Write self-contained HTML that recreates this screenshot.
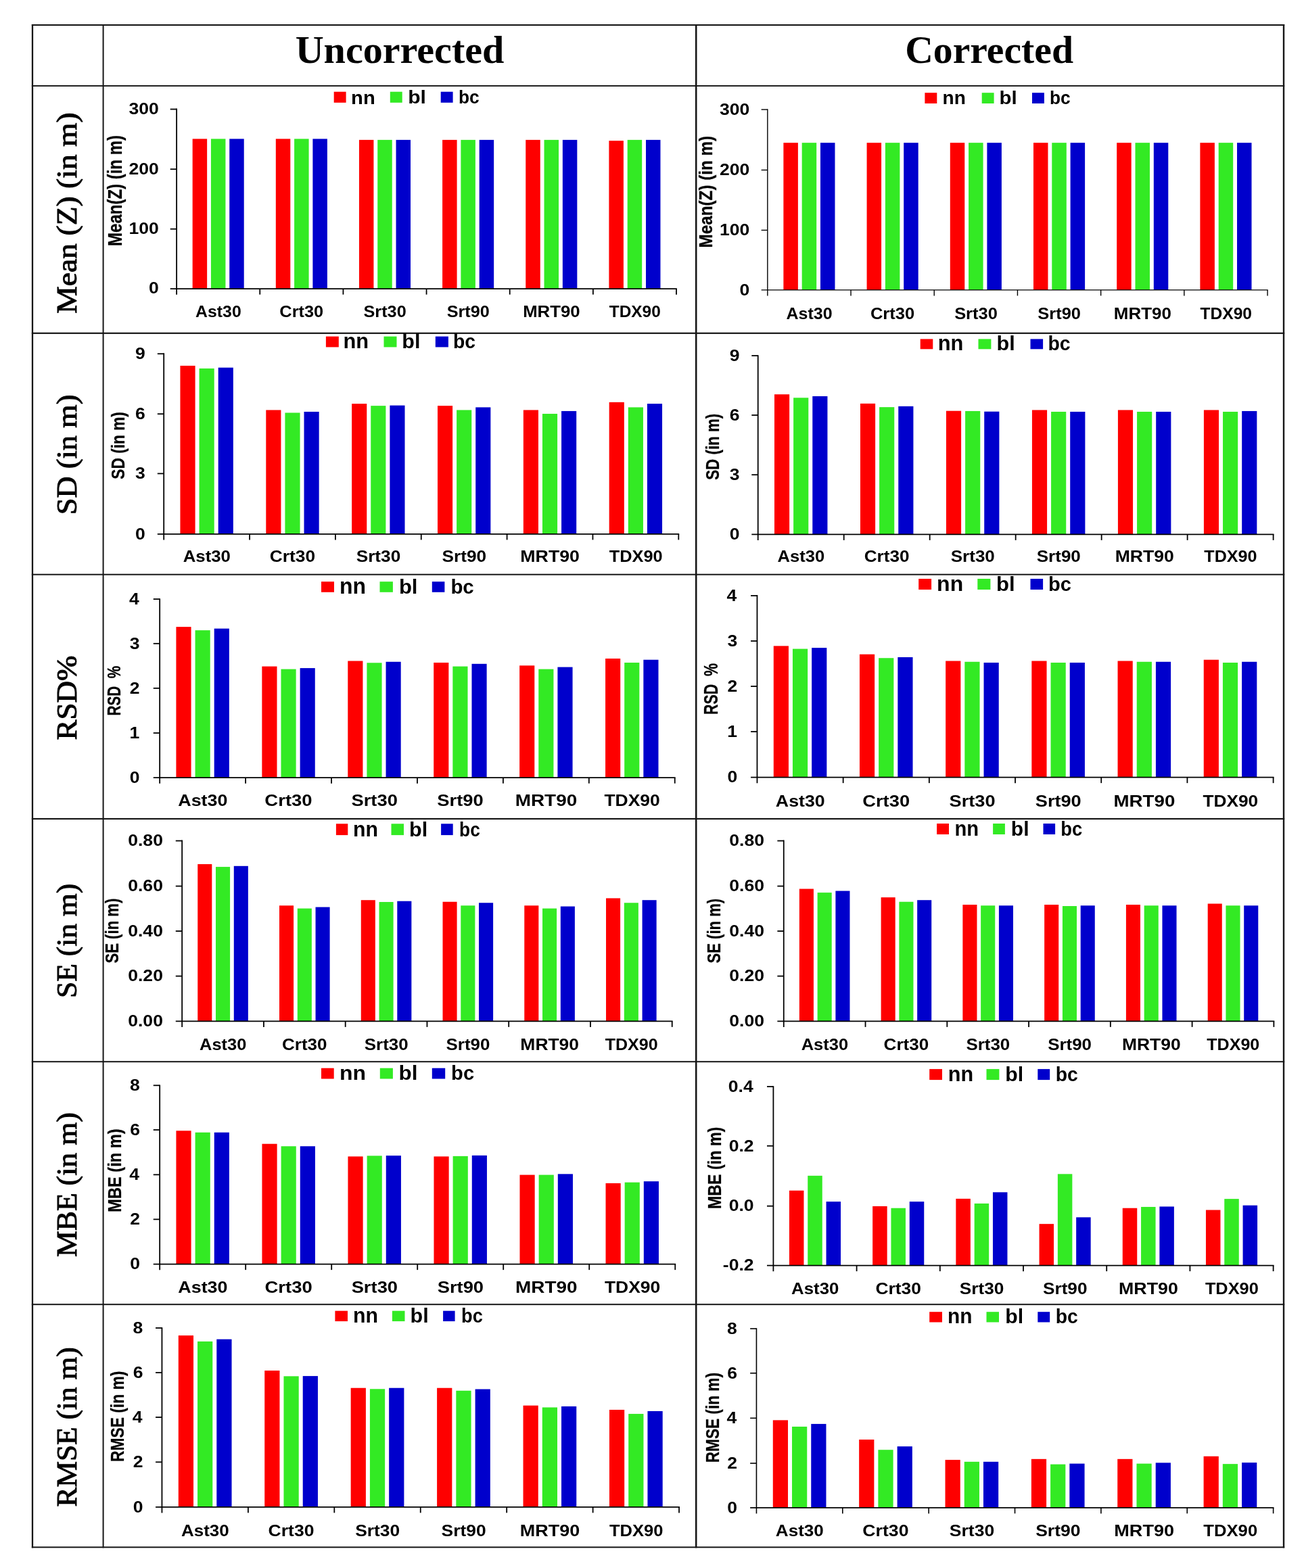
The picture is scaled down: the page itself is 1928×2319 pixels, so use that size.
<!DOCTYPE html>
<html lang="en"><head><meta charset="utf-8"><title>Uncorrected vs Corrected DEM statistics</title>
<style>
html,body{margin:0;padding:0;background:#fff;}
body{width:1928px;height:2319px;overflow:hidden;}
svg{display:block;}
.ss{font-family:'Liberation Sans', sans-serif;}
.sf{font-family:'Liberation Serif', serif;}
.b{font-weight:bold;}
.n{font-weight:normal;}
text{fill:#000000;}
</style></head>
<body>
<svg width="1928" height="2319" viewBox="0 0 1928 2319">
<rect width="1928" height="2319" fill="#ffffff"/>
<g id="bars-axes">
<rect x="284.65" y="205.37" width="21.49" height="221.76" fill="#fe0000"/>
<rect x="311.95" y="205.37" width="21.49" height="221.76" fill="#33ea24"/>
<rect x="339.24" y="205.37" width="21.49" height="221.76" fill="#0000cc"/>
<rect x="407.80" y="205.37" width="21.49" height="221.76" fill="#fe0000"/>
<rect x="435.10" y="205.37" width="21.49" height="221.76" fill="#33ea24"/>
<rect x="462.39" y="205.37" width="21.49" height="221.76" fill="#0000cc"/>
<rect x="530.95" y="206.88" width="21.49" height="220.25" fill="#fe0000"/>
<rect x="558.24" y="206.88" width="21.49" height="220.25" fill="#33ea24"/>
<rect x="585.54" y="206.88" width="21.49" height="220.25" fill="#0000cc"/>
<rect x="654.10" y="206.88" width="21.49" height="220.25" fill="#fe0000"/>
<rect x="681.39" y="206.88" width="21.49" height="220.25" fill="#33ea24"/>
<rect x="708.69" y="206.88" width="21.49" height="220.25" fill="#0000cc"/>
<rect x="777.25" y="206.88" width="21.49" height="220.25" fill="#fe0000"/>
<rect x="804.54" y="206.88" width="21.49" height="220.25" fill="#33ea24"/>
<rect x="831.84" y="206.88" width="21.49" height="220.25" fill="#0000cc"/>
<rect x="900.40" y="208.14" width="21.49" height="218.99" fill="#fe0000"/>
<rect x="927.69" y="206.88" width="21.49" height="220.25" fill="#33ea24"/>
<rect x="954.99" y="206.88" width="21.49" height="220.25" fill="#0000cc"/>
<line x1="261.12" y1="160.62" x2="261.12" y2="435.63" stroke="#000000" stroke-width="1.8"/>
<line x1="251.72" y1="427.13" x2="1000.91" y2="427.13" stroke="#000000" stroke-width="1.8"/>
<line x1="251.72" y1="161.52" x2="261.12" y2="161.52" stroke="#000000" stroke-width="1.8"/>
<line x1="251.72" y1="250.22" x2="261.12" y2="250.22" stroke="#000000" stroke-width="1.8"/>
<line x1="251.72" y1="338.68" x2="261.12" y2="338.68" stroke="#000000" stroke-width="1.8"/>
<line x1="384.27" y1="427.13" x2="384.27" y2="435.63" stroke="#000000" stroke-width="1.8"/>
<line x1="507.42" y1="427.13" x2="507.42" y2="435.63" stroke="#000000" stroke-width="1.8"/>
<line x1="630.56" y1="427.13" x2="630.56" y2="435.63" stroke="#000000" stroke-width="1.8"/>
<line x1="753.71" y1="427.13" x2="753.71" y2="435.63" stroke="#000000" stroke-width="1.8"/>
<line x1="876.86" y1="427.13" x2="876.86" y2="435.63" stroke="#000000" stroke-width="1.8"/>
<line x1="1000.01" y1="427.13" x2="1000.01" y2="435.63" stroke="#000000" stroke-width="1.8"/>
<rect x="493.70" y="135.70" width="17.90" height="16.10" fill="#fe0000"/>
<rect x="576.80" y="135.70" width="17.90" height="16.10" fill="#33ea24"/>
<rect x="651.70" y="135.70" width="17.90" height="16.10" fill="#0000cc"/>
<rect x="1158.38" y="211.16" width="21.50" height="217.73" fill="#fe0000"/>
<rect x="1185.68" y="211.16" width="21.50" height="217.73" fill="#33ea24"/>
<rect x="1212.99" y="211.16" width="21.50" height="217.73" fill="#0000cc"/>
<rect x="1281.58" y="211.16" width="21.50" height="217.73" fill="#fe0000"/>
<rect x="1308.89" y="211.16" width="21.50" height="217.73" fill="#33ea24"/>
<rect x="1336.19" y="211.16" width="21.50" height="217.73" fill="#0000cc"/>
<rect x="1404.78" y="211.16" width="21.50" height="217.73" fill="#fe0000"/>
<rect x="1432.09" y="211.16" width="21.50" height="217.73" fill="#33ea24"/>
<rect x="1459.39" y="211.16" width="21.50" height="217.73" fill="#0000cc"/>
<rect x="1527.98" y="211.16" width="21.50" height="217.73" fill="#fe0000"/>
<rect x="1555.29" y="211.16" width="21.50" height="217.73" fill="#33ea24"/>
<rect x="1582.60" y="211.16" width="21.50" height="217.73" fill="#0000cc"/>
<rect x="1651.18" y="211.16" width="21.50" height="217.73" fill="#fe0000"/>
<rect x="1678.49" y="211.16" width="21.50" height="217.73" fill="#33ea24"/>
<rect x="1705.80" y="211.16" width="21.50" height="217.73" fill="#0000cc"/>
<rect x="1774.39" y="211.16" width="21.50" height="217.73" fill="#fe0000"/>
<rect x="1801.69" y="211.16" width="21.50" height="217.73" fill="#33ea24"/>
<rect x="1829.00" y="211.16" width="21.50" height="217.73" fill="#0000cc"/>
<line x1="1134.83" y1="161.32" x2="1134.83" y2="437.39" stroke="#000000" stroke-width="1.4"/>
<line x1="1125.63" y1="428.89" x2="1874.74" y2="428.89" stroke="#000000" stroke-width="1.4"/>
<line x1="1125.63" y1="162.02" x2="1134.83" y2="162.02" stroke="#000000" stroke-width="1.4"/>
<line x1="1125.63" y1="251.48" x2="1134.83" y2="251.48" stroke="#000000" stroke-width="1.4"/>
<line x1="1125.63" y1="340.44" x2="1134.83" y2="340.44" stroke="#000000" stroke-width="1.4"/>
<line x1="1258.04" y1="428.89" x2="1258.04" y2="437.39" stroke="#000000" stroke-width="1.4"/>
<line x1="1381.24" y1="428.89" x2="1381.24" y2="437.39" stroke="#000000" stroke-width="1.4"/>
<line x1="1504.44" y1="428.89" x2="1504.44" y2="437.39" stroke="#000000" stroke-width="1.4"/>
<line x1="1627.64" y1="428.89" x2="1627.64" y2="437.39" stroke="#000000" stroke-width="1.4"/>
<line x1="1750.84" y1="428.89" x2="1750.84" y2="437.39" stroke="#000000" stroke-width="1.4"/>
<line x1="1874.04" y1="428.89" x2="1874.04" y2="437.39" stroke="#000000" stroke-width="1.4"/>
<rect x="1367.40" y="137.20" width="17.90" height="15.80" fill="#fe0000"/>
<rect x="1451.70" y="137.20" width="17.90" height="15.80" fill="#33ea24"/>
<rect x="1526.00" y="137.20" width="17.90" height="15.80" fill="#0000cc"/>
<rect x="266.46" y="540.90" width="22.14" height="248.98" fill="#fe0000"/>
<rect x="294.57" y="544.94" width="22.14" height="244.95" fill="#33ea24"/>
<rect x="322.69" y="543.68" width="22.14" height="246.21" fill="#0000cc"/>
<rect x="393.30" y="606.43" width="22.14" height="183.46" fill="#fe0000"/>
<rect x="421.42" y="610.46" width="22.14" height="179.43" fill="#33ea24"/>
<rect x="449.53" y="608.95" width="22.14" height="180.94" fill="#0000cc"/>
<rect x="520.15" y="597.10" width="22.14" height="192.78" fill="#fe0000"/>
<rect x="548.26" y="600.13" width="22.14" height="189.76" fill="#33ea24"/>
<rect x="576.38" y="599.62" width="22.14" height="190.26" fill="#0000cc"/>
<rect x="646.99" y="600.13" width="22.14" height="189.76" fill="#fe0000"/>
<rect x="675.11" y="606.43" width="22.14" height="183.46" fill="#33ea24"/>
<rect x="703.22" y="602.39" width="22.14" height="187.49" fill="#0000cc"/>
<rect x="773.84" y="606.43" width="22.14" height="183.46" fill="#fe0000"/>
<rect x="801.95" y="611.97" width="22.14" height="177.92" fill="#33ea24"/>
<rect x="830.07" y="607.94" width="22.14" height="181.95" fill="#0000cc"/>
<rect x="900.68" y="594.83" width="22.14" height="195.05" fill="#fe0000"/>
<rect x="928.80" y="602.39" width="22.14" height="187.49" fill="#33ea24"/>
<rect x="956.91" y="597.10" width="22.14" height="192.78" fill="#0000cc"/>
<line x1="242.22" y1="522.36" x2="242.22" y2="798.39" stroke="#000000" stroke-width="1.8"/>
<line x1="232.82" y1="789.89" x2="1004.19" y2="789.89" stroke="#000000" stroke-width="1.8"/>
<line x1="232.82" y1="523.26" x2="242.22" y2="523.26" stroke="#000000" stroke-width="1.8"/>
<line x1="232.82" y1="612.22" x2="242.22" y2="612.22" stroke="#000000" stroke-width="1.8"/>
<line x1="232.82" y1="700.42" x2="242.22" y2="700.42" stroke="#000000" stroke-width="1.8"/>
<line x1="369.06" y1="789.89" x2="369.06" y2="798.39" stroke="#000000" stroke-width="1.8"/>
<line x1="495.91" y1="789.89" x2="495.91" y2="798.39" stroke="#000000" stroke-width="1.8"/>
<line x1="622.75" y1="789.89" x2="622.75" y2="798.39" stroke="#000000" stroke-width="1.8"/>
<line x1="749.60" y1="789.89" x2="749.60" y2="798.39" stroke="#000000" stroke-width="1.8"/>
<line x1="876.44" y1="789.89" x2="876.44" y2="798.39" stroke="#000000" stroke-width="1.8"/>
<line x1="1003.29" y1="789.89" x2="1003.29" y2="798.39" stroke="#000000" stroke-width="1.8"/>
<rect x="481.90" y="497.60" width="18.90" height="15.80" fill="#fe0000"/>
<rect x="567.50" y="497.60" width="19.00" height="15.80" fill="#33ea24"/>
<rect x="643.80" y="497.60" width="19.10" height="15.80" fill="#0000cc"/>
<rect x="1144.99" y="583.24" width="22.16" height="207.15" fill="#fe0000"/>
<rect x="1173.13" y="588.28" width="22.16" height="202.11" fill="#33ea24"/>
<rect x="1201.28" y="586.01" width="22.16" height="204.38" fill="#0000cc"/>
<rect x="1271.97" y="596.85" width="22.16" height="193.54" fill="#fe0000"/>
<rect x="1300.11" y="602.14" width="22.16" height="188.25" fill="#33ea24"/>
<rect x="1328.26" y="600.88" width="22.16" height="189.51" fill="#0000cc"/>
<rect x="1398.95" y="607.69" width="22.16" height="182.70" fill="#fe0000"/>
<rect x="1427.10" y="607.94" width="22.16" height="182.45" fill="#33ea24"/>
<rect x="1455.24" y="608.69" width="22.16" height="181.70" fill="#0000cc"/>
<rect x="1525.93" y="606.43" width="22.16" height="183.96" fill="#fe0000"/>
<rect x="1554.08" y="608.95" width="22.16" height="181.44" fill="#33ea24"/>
<rect x="1582.22" y="608.95" width="22.16" height="181.44" fill="#0000cc"/>
<rect x="1652.91" y="606.43" width="22.16" height="183.96" fill="#fe0000"/>
<rect x="1681.06" y="608.95" width="22.16" height="181.44" fill="#33ea24"/>
<rect x="1709.20" y="608.95" width="22.16" height="181.44" fill="#0000cc"/>
<rect x="1779.90" y="606.43" width="22.16" height="183.96" fill="#fe0000"/>
<rect x="1808.04" y="608.95" width="22.16" height="181.44" fill="#33ea24"/>
<rect x="1836.18" y="607.94" width="22.16" height="182.45" fill="#0000cc"/>
<line x1="1120.72" y1="525.14" x2="1120.72" y2="798.89" stroke="#000000" stroke-width="1.8"/>
<line x1="1111.32" y1="790.39" x2="1883.51" y2="790.39" stroke="#000000" stroke-width="1.8"/>
<line x1="1111.32" y1="526.04" x2="1120.72" y2="526.04" stroke="#000000" stroke-width="1.8"/>
<line x1="1111.32" y1="613.99" x2="1120.72" y2="613.99" stroke="#000000" stroke-width="1.8"/>
<line x1="1111.32" y1="702.19" x2="1120.72" y2="702.19" stroke="#000000" stroke-width="1.8"/>
<line x1="1247.70" y1="790.39" x2="1247.70" y2="798.89" stroke="#000000" stroke-width="1.8"/>
<line x1="1374.68" y1="790.39" x2="1374.68" y2="798.89" stroke="#000000" stroke-width="1.8"/>
<line x1="1501.67" y1="790.39" x2="1501.67" y2="798.89" stroke="#000000" stroke-width="1.8"/>
<line x1="1628.65" y1="790.39" x2="1628.65" y2="798.89" stroke="#000000" stroke-width="1.8"/>
<line x1="1755.63" y1="790.39" x2="1755.63" y2="798.89" stroke="#000000" stroke-width="1.8"/>
<line x1="1882.61" y1="790.39" x2="1882.61" y2="798.89" stroke="#000000" stroke-width="1.8"/>
<rect x="1360.70" y="501.40" width="18.60" height="14.90" fill="#fe0000"/>
<rect x="1446.50" y="501.40" width="18.90" height="14.90" fill="#33ea24"/>
<rect x="1523.50" y="501.40" width="18.60" height="14.90" fill="#0000cc"/>
<rect x="260.43" y="927.11" width="22.15" height="223.02" fill="#fe0000"/>
<rect x="288.56" y="932.15" width="22.15" height="217.98" fill="#33ea24"/>
<rect x="316.69" y="929.63" width="22.15" height="220.50" fill="#0000cc"/>
<rect x="387.35" y="985.58" width="22.15" height="164.56" fill="#fe0000"/>
<rect x="415.49" y="989.61" width="22.15" height="160.53" fill="#33ea24"/>
<rect x="443.62" y="988.10" width="22.15" height="162.04" fill="#0000cc"/>
<rect x="514.28" y="977.51" width="22.15" height="172.62" fill="#fe0000"/>
<rect x="542.42" y="980.29" width="22.15" height="169.85" fill="#33ea24"/>
<rect x="570.55" y="978.77" width="22.15" height="171.36" fill="#0000cc"/>
<rect x="641.21" y="980.03" width="22.15" height="170.10" fill="#fe0000"/>
<rect x="669.35" y="985.58" width="22.15" height="164.56" fill="#33ea24"/>
<rect x="697.48" y="981.80" width="22.15" height="168.34" fill="#0000cc"/>
<rect x="768.14" y="984.32" width="22.15" height="165.82" fill="#fe0000"/>
<rect x="796.27" y="989.61" width="22.15" height="160.53" fill="#33ea24"/>
<rect x="824.41" y="986.59" width="22.15" height="163.55" fill="#0000cc"/>
<rect x="895.07" y="973.99" width="22.15" height="176.15" fill="#fe0000"/>
<rect x="923.20" y="980.03" width="22.15" height="170.10" fill="#33ea24"/>
<rect x="951.34" y="975.75" width="22.15" height="174.39" fill="#0000cc"/>
<line x1="236.17" y1="885.14" x2="236.17" y2="1158.64" stroke="#000000" stroke-width="1.8"/>
<line x1="226.77" y1="1150.14" x2="998.64" y2="1150.14" stroke="#000000" stroke-width="1.8"/>
<line x1="226.77" y1="886.04" x2="236.17" y2="886.04" stroke="#000000" stroke-width="1.8"/>
<line x1="226.77" y1="951.81" x2="236.17" y2="951.81" stroke="#000000" stroke-width="1.8"/>
<line x1="226.77" y1="1017.84" x2="236.17" y2="1017.84" stroke="#000000" stroke-width="1.8"/>
<line x1="226.77" y1="1084.11" x2="236.17" y2="1084.11" stroke="#000000" stroke-width="1.8"/>
<line x1="363.10" y1="1150.14" x2="363.10" y2="1158.64" stroke="#000000" stroke-width="1.8"/>
<line x1="490.03" y1="1150.14" x2="490.03" y2="1158.64" stroke="#000000" stroke-width="1.8"/>
<line x1="616.96" y1="1150.14" x2="616.96" y2="1158.64" stroke="#000000" stroke-width="1.8"/>
<line x1="743.89" y1="1150.14" x2="743.89" y2="1158.64" stroke="#000000" stroke-width="1.8"/>
<line x1="870.81" y1="1150.14" x2="870.81" y2="1158.64" stroke="#000000" stroke-width="1.8"/>
<line x1="997.74" y1="1150.14" x2="997.74" y2="1158.64" stroke="#000000" stroke-width="1.8"/>
<rect x="475.00" y="860.20" width="19.00" height="15.60" fill="#fe0000"/>
<rect x="561.50" y="860.20" width="19.40" height="15.60" fill="#33ea24"/>
<rect x="638.80" y="860.20" width="18.60" height="15.60" fill="#0000cc"/>
<rect x="1143.77" y="955.34" width="22.20" height="194.30" fill="#fe0000"/>
<rect x="1171.96" y="959.62" width="22.20" height="190.01" fill="#33ea24"/>
<rect x="1200.15" y="958.11" width="22.20" height="191.52" fill="#0000cc"/>
<rect x="1270.96" y="967.69" width="22.20" height="181.95" fill="#fe0000"/>
<rect x="1299.15" y="973.23" width="22.20" height="176.40" fill="#33ea24"/>
<rect x="1327.34" y="971.97" width="22.20" height="177.66" fill="#0000cc"/>
<rect x="1398.15" y="977.51" width="22.20" height="172.12" fill="#fe0000"/>
<rect x="1426.34" y="978.77" width="22.20" height="170.86" fill="#33ea24"/>
<rect x="1454.53" y="980.03" width="22.20" height="169.60" fill="#0000cc"/>
<rect x="1525.34" y="977.51" width="22.20" height="172.12" fill="#fe0000"/>
<rect x="1553.53" y="980.03" width="22.20" height="169.60" fill="#33ea24"/>
<rect x="1581.72" y="980.03" width="22.20" height="169.60" fill="#0000cc"/>
<rect x="1652.53" y="977.51" width="22.20" height="172.12" fill="#fe0000"/>
<rect x="1680.73" y="978.77" width="22.20" height="170.86" fill="#33ea24"/>
<rect x="1708.92" y="978.77" width="22.20" height="170.86" fill="#0000cc"/>
<rect x="1779.73" y="975.75" width="22.20" height="173.88" fill="#fe0000"/>
<rect x="1807.92" y="980.03" width="22.20" height="169.60" fill="#33ea24"/>
<rect x="1836.11" y="978.77" width="22.20" height="170.86" fill="#0000cc"/>
<line x1="1119.46" y1="880.10" x2="1119.46" y2="1158.13" stroke="#000000" stroke-width="1.8"/>
<line x1="1110.06" y1="1149.63" x2="1883.51" y2="1149.63" stroke="#000000" stroke-width="1.8"/>
<line x1="1110.06" y1="881.00" x2="1119.46" y2="881.00" stroke="#000000" stroke-width="1.8"/>
<line x1="1110.06" y1="948.03" x2="1119.46" y2="948.03" stroke="#000000" stroke-width="1.8"/>
<line x1="1110.06" y1="1015.06" x2="1119.46" y2="1015.06" stroke="#000000" stroke-width="1.8"/>
<line x1="1110.06" y1="1082.10" x2="1119.46" y2="1082.10" stroke="#000000" stroke-width="1.8"/>
<line x1="1246.65" y1="1149.63" x2="1246.65" y2="1158.13" stroke="#000000" stroke-width="1.8"/>
<line x1="1373.84" y1="1149.63" x2="1373.84" y2="1158.13" stroke="#000000" stroke-width="1.8"/>
<line x1="1501.04" y1="1149.63" x2="1501.04" y2="1158.13" stroke="#000000" stroke-width="1.8"/>
<line x1="1628.23" y1="1149.63" x2="1628.23" y2="1158.13" stroke="#000000" stroke-width="1.8"/>
<line x1="1755.42" y1="1149.63" x2="1755.42" y2="1158.13" stroke="#000000" stroke-width="1.8"/>
<line x1="1882.61" y1="1149.63" x2="1882.61" y2="1158.13" stroke="#000000" stroke-width="1.8"/>
<rect x="1358.20" y="856.00" width="18.90" height="16.00" fill="#fe0000"/>
<rect x="1445.30" y="856.00" width="19.10" height="16.00" fill="#33ea24"/>
<rect x="1523.50" y="856.00" width="18.60" height="16.00" fill="#0000cc"/>
<rect x="292.26" y="1278.04" width="21.07" height="232.35" fill="#fe0000"/>
<rect x="319.02" y="1282.07" width="21.07" height="228.32" fill="#33ea24"/>
<rect x="345.79" y="1280.81" width="21.07" height="229.58" fill="#0000cc"/>
<rect x="413.01" y="1339.28" width="21.07" height="171.11" fill="#fe0000"/>
<rect x="439.78" y="1343.56" width="21.07" height="166.83" fill="#33ea24"/>
<rect x="466.54" y="1341.55" width="21.07" height="168.84" fill="#0000cc"/>
<rect x="533.77" y="1331.21" width="21.07" height="179.18" fill="#fe0000"/>
<rect x="560.53" y="1333.99" width="21.07" height="176.40" fill="#33ea24"/>
<rect x="587.30" y="1332.73" width="21.07" height="177.66" fill="#0000cc"/>
<rect x="654.52" y="1333.73" width="21.07" height="176.66" fill="#fe0000"/>
<rect x="681.29" y="1339.28" width="21.07" height="171.11" fill="#33ea24"/>
<rect x="708.05" y="1335.25" width="21.07" height="175.14" fill="#0000cc"/>
<rect x="775.28" y="1339.28" width="21.07" height="171.11" fill="#fe0000"/>
<rect x="802.04" y="1343.56" width="21.07" height="166.83" fill="#33ea24"/>
<rect x="828.81" y="1340.54" width="21.07" height="169.85" fill="#0000cc"/>
<rect x="896.03" y="1328.44" width="21.07" height="181.95" fill="#fe0000"/>
<rect x="922.80" y="1335.25" width="21.07" height="175.14" fill="#33ea24"/>
<rect x="949.56" y="1331.21" width="21.07" height="179.18" fill="#0000cc"/>
<line x1="269.18" y1="1242.62" x2="269.18" y2="1518.89" stroke="#000000" stroke-width="1.8"/>
<line x1="259.78" y1="1510.39" x2="994.61" y2="1510.39" stroke="#000000" stroke-width="1.8"/>
<line x1="259.78" y1="1243.52" x2="269.18" y2="1243.52" stroke="#000000" stroke-width="1.8"/>
<line x1="259.78" y1="1310.55" x2="269.18" y2="1310.55" stroke="#000000" stroke-width="1.8"/>
<line x1="259.78" y1="1377.08" x2="269.18" y2="1377.08" stroke="#000000" stroke-width="1.8"/>
<line x1="259.78" y1="1443.61" x2="269.18" y2="1443.61" stroke="#000000" stroke-width="1.8"/>
<line x1="389.94" y1="1510.39" x2="389.94" y2="1518.89" stroke="#000000" stroke-width="1.8"/>
<line x1="510.69" y1="1510.39" x2="510.69" y2="1518.89" stroke="#000000" stroke-width="1.8"/>
<line x1="631.45" y1="1510.39" x2="631.45" y2="1518.89" stroke="#000000" stroke-width="1.8"/>
<line x1="752.20" y1="1510.39" x2="752.20" y2="1518.89" stroke="#000000" stroke-width="1.8"/>
<line x1="872.96" y1="1510.39" x2="872.96" y2="1518.89" stroke="#000000" stroke-width="1.8"/>
<line x1="993.71" y1="1510.39" x2="993.71" y2="1518.89" stroke="#000000" stroke-width="1.8"/>
<rect x="496.90" y="1218.30" width="17.40" height="16.80" fill="#fe0000"/>
<rect x="578.50" y="1218.30" width="18.50" height="16.80" fill="#33ea24"/>
<rect x="652.10" y="1218.30" width="17.60" height="16.80" fill="#0000cc"/>
<rect x="1181.85" y="1314.58" width="21.08" height="195.81" fill="#fe0000"/>
<rect x="1208.62" y="1320.13" width="21.08" height="190.26" fill="#33ea24"/>
<rect x="1235.39" y="1317.61" width="21.08" height="192.78" fill="#0000cc"/>
<rect x="1302.62" y="1327.18" width="21.08" height="183.21" fill="#fe0000"/>
<rect x="1329.38" y="1333.73" width="21.08" height="176.66" fill="#33ea24"/>
<rect x="1356.15" y="1331.21" width="21.08" height="179.18" fill="#0000cc"/>
<rect x="1423.38" y="1338.02" width="21.08" height="172.37" fill="#fe0000"/>
<rect x="1450.15" y="1339.28" width="21.08" height="171.11" fill="#33ea24"/>
<rect x="1476.92" y="1339.28" width="21.08" height="171.11" fill="#0000cc"/>
<rect x="1544.15" y="1338.02" width="21.08" height="172.37" fill="#fe0000"/>
<rect x="1570.92" y="1340.03" width="21.08" height="170.36" fill="#33ea24"/>
<rect x="1597.68" y="1339.28" width="21.08" height="171.11" fill="#0000cc"/>
<rect x="1664.91" y="1338.02" width="21.08" height="172.37" fill="#fe0000"/>
<rect x="1691.68" y="1339.28" width="21.08" height="171.11" fill="#33ea24"/>
<rect x="1718.45" y="1339.28" width="21.08" height="171.11" fill="#0000cc"/>
<rect x="1785.68" y="1336.51" width="21.08" height="173.88" fill="#fe0000"/>
<rect x="1812.45" y="1339.28" width="21.08" height="171.11" fill="#33ea24"/>
<rect x="1839.21" y="1339.28" width="21.08" height="171.11" fill="#0000cc"/>
<line x1="1158.77" y1="1242.62" x2="1158.77" y2="1518.89" stroke="#000000" stroke-width="1.8"/>
<line x1="1149.37" y1="1510.39" x2="1884.27" y2="1510.39" stroke="#000000" stroke-width="1.8"/>
<line x1="1149.37" y1="1243.52" x2="1158.77" y2="1243.52" stroke="#000000" stroke-width="1.8"/>
<line x1="1149.37" y1="1310.55" x2="1158.77" y2="1310.55" stroke="#000000" stroke-width="1.8"/>
<line x1="1149.37" y1="1377.08" x2="1158.77" y2="1377.08" stroke="#000000" stroke-width="1.8"/>
<line x1="1149.37" y1="1443.61" x2="1158.77" y2="1443.61" stroke="#000000" stroke-width="1.8"/>
<line x1="1279.54" y1="1510.39" x2="1279.54" y2="1518.89" stroke="#000000" stroke-width="1.8"/>
<line x1="1400.31" y1="1510.39" x2="1400.31" y2="1518.89" stroke="#000000" stroke-width="1.8"/>
<line x1="1521.07" y1="1510.39" x2="1521.07" y2="1518.89" stroke="#000000" stroke-width="1.8"/>
<line x1="1641.84" y1="1510.39" x2="1641.84" y2="1518.89" stroke="#000000" stroke-width="1.8"/>
<line x1="1762.60" y1="1510.39" x2="1762.60" y2="1518.89" stroke="#000000" stroke-width="1.8"/>
<line x1="1883.37" y1="1510.39" x2="1883.37" y2="1518.89" stroke="#000000" stroke-width="1.8"/>
<rect x="1385.10" y="1218.00" width="17.90" height="16.00" fill="#fe0000"/>
<rect x="1468.10" y="1218.00" width="17.80" height="16.00" fill="#33ea24"/>
<rect x="1542.50" y="1218.00" width="17.60" height="16.00" fill="#0000cc"/>
<rect x="260.44" y="1672.31" width="22.17" height="197.32" fill="#fe0000"/>
<rect x="288.59" y="1674.83" width="22.17" height="194.80" fill="#33ea24"/>
<rect x="316.74" y="1674.83" width="22.17" height="194.80" fill="#0000cc"/>
<rect x="387.45" y="1691.72" width="22.17" height="177.92" fill="#fe0000"/>
<rect x="415.61" y="1695.25" width="22.17" height="174.39" fill="#33ea24"/>
<rect x="443.76" y="1695.25" width="22.17" height="174.39" fill="#0000cc"/>
<rect x="514.47" y="1710.37" width="22.17" height="159.27" fill="#fe0000"/>
<rect x="542.62" y="1709.36" width="22.17" height="160.27" fill="#33ea24"/>
<rect x="570.77" y="1709.11" width="22.17" height="160.53" fill="#0000cc"/>
<rect x="641.48" y="1710.37" width="22.17" height="159.27" fill="#fe0000"/>
<rect x="669.63" y="1709.86" width="22.17" height="159.77" fill="#33ea24"/>
<rect x="697.78" y="1708.85" width="22.17" height="160.78" fill="#0000cc"/>
<rect x="768.49" y="1737.58" width="22.17" height="132.05" fill="#fe0000"/>
<rect x="796.64" y="1737.58" width="22.17" height="132.05" fill="#33ea24"/>
<rect x="824.80" y="1736.32" width="22.17" height="133.31" fill="#0000cc"/>
<rect x="895.51" y="1749.93" width="22.17" height="119.70" fill="#fe0000"/>
<rect x="923.66" y="1748.67" width="22.17" height="120.96" fill="#33ea24"/>
<rect x="951.81" y="1747.16" width="22.17" height="122.47" fill="#0000cc"/>
<line x1="236.17" y1="1604.38" x2="236.17" y2="1878.13" stroke="#000000" stroke-width="1.8"/>
<line x1="226.77" y1="1869.63" x2="999.15" y2="1869.63" stroke="#000000" stroke-width="1.8"/>
<line x1="226.77" y1="1605.28" x2="236.17" y2="1605.28" stroke="#000000" stroke-width="1.8"/>
<line x1="226.77" y1="1671.05" x2="236.17" y2="1671.05" stroke="#000000" stroke-width="1.8"/>
<line x1="226.77" y1="1737.33" x2="236.17" y2="1737.33" stroke="#000000" stroke-width="1.8"/>
<line x1="226.77" y1="1803.36" x2="236.17" y2="1803.36" stroke="#000000" stroke-width="1.8"/>
<line x1="363.18" y1="1869.63" x2="363.18" y2="1878.13" stroke="#000000" stroke-width="1.8"/>
<line x1="490.20" y1="1869.63" x2="490.20" y2="1878.13" stroke="#000000" stroke-width="1.8"/>
<line x1="617.21" y1="1869.63" x2="617.21" y2="1878.13" stroke="#000000" stroke-width="1.8"/>
<line x1="744.22" y1="1869.63" x2="744.22" y2="1878.13" stroke="#000000" stroke-width="1.8"/>
<line x1="871.23" y1="1869.63" x2="871.23" y2="1878.13" stroke="#000000" stroke-width="1.8"/>
<line x1="998.25" y1="1869.63" x2="998.25" y2="1878.13" stroke="#000000" stroke-width="1.8"/>
<rect x="475.00" y="1579.70" width="18.70" height="15.80" fill="#fe0000"/>
<rect x="561.80" y="1579.70" width="19.10" height="15.80" fill="#33ea24"/>
<rect x="638.80" y="1579.70" width="19.40" height="15.80" fill="#0000cc"/>
<rect x="1166.95" y="1760.77" width="21.50" height="110.88" fill="#fe0000"/>
<rect x="1194.25" y="1738.84" width="21.50" height="132.81" fill="#33ea24"/>
<rect x="1221.56" y="1777.15" width="21.50" height="94.50" fill="#0000cc"/>
<rect x="1290.15" y="1783.95" width="21.50" height="87.70" fill="#fe0000"/>
<rect x="1317.45" y="1786.72" width="21.50" height="84.93" fill="#33ea24"/>
<rect x="1344.76" y="1777.15" width="21.50" height="94.50" fill="#0000cc"/>
<rect x="1413.35" y="1772.86" width="21.50" height="98.79" fill="#fe0000"/>
<rect x="1440.66" y="1779.92" width="21.50" height="91.73" fill="#33ea24"/>
<rect x="1467.96" y="1763.29" width="21.50" height="108.36" fill="#0000cc"/>
<rect x="1536.55" y="1810.16" width="21.50" height="61.49" fill="#fe0000"/>
<rect x="1563.86" y="1736.32" width="21.50" height="135.33" fill="#33ea24"/>
<rect x="1591.16" y="1800.33" width="21.50" height="71.32" fill="#0000cc"/>
<rect x="1659.75" y="1786.72" width="21.50" height="84.93" fill="#fe0000"/>
<rect x="1687.06" y="1784.96" width="21.50" height="86.69" fill="#33ea24"/>
<rect x="1714.37" y="1784.46" width="21.50" height="87.19" fill="#0000cc"/>
<rect x="1782.95" y="1789.50" width="21.50" height="82.15" fill="#fe0000"/>
<rect x="1810.26" y="1773.12" width="21.50" height="98.53" fill="#33ea24"/>
<rect x="1837.57" y="1782.69" width="21.50" height="88.96" fill="#0000cc"/>
<line x1="1143.40" y1="1606.14" x2="1143.40" y2="1880.15" stroke="#000000" stroke-width="1.8"/>
<line x1="1134.00" y1="1871.65" x2="1883.51" y2="1871.65" stroke="#000000" stroke-width="1.8"/>
<line x1="1134.00" y1="1607.04" x2="1143.40" y2="1607.04" stroke="#000000" stroke-width="1.8"/>
<line x1="1134.00" y1="1694.74" x2="1143.40" y2="1694.74" stroke="#000000" stroke-width="1.8"/>
<line x1="1134.00" y1="1783.70" x2="1143.40" y2="1783.70" stroke="#000000" stroke-width="1.8"/>
<line x1="1266.60" y1="1871.65" x2="1266.60" y2="1880.15" stroke="#000000" stroke-width="1.8"/>
<line x1="1389.81" y1="1871.65" x2="1389.81" y2="1880.15" stroke="#000000" stroke-width="1.8"/>
<line x1="1513.01" y1="1871.65" x2="1513.01" y2="1880.15" stroke="#000000" stroke-width="1.8"/>
<line x1="1636.21" y1="1871.65" x2="1636.21" y2="1880.15" stroke="#000000" stroke-width="1.8"/>
<line x1="1759.41" y1="1871.65" x2="1759.41" y2="1880.15" stroke="#000000" stroke-width="1.8"/>
<line x1="1882.61" y1="1871.65" x2="1882.61" y2="1880.15" stroke="#000000" stroke-width="1.8"/>
<rect x="1374.20" y="1581.10" width="18.80" height="16.00" fill="#fe0000"/>
<rect x="1458.50" y="1581.10" width="18.90" height="16.00" fill="#33ea24"/>
<rect x="1534.30" y="1581.10" width="17.90" height="16.00" fill="#0000cc"/>
<rect x="263.80" y="1975.12" width="22.24" height="253.77" fill="#fe0000"/>
<rect x="292.04" y="1983.95" width="22.24" height="244.95" fill="#33ea24"/>
<rect x="320.29" y="1980.67" width="22.24" height="248.22" fill="#0000cc"/>
<rect x="391.23" y="2027.04" width="22.24" height="201.86" fill="#fe0000"/>
<rect x="419.48" y="2035.35" width="22.24" height="193.54" fill="#33ea24"/>
<rect x="447.72" y="2035.10" width="22.24" height="193.79" fill="#0000cc"/>
<rect x="518.66" y="2052.74" width="22.24" height="176.15" fill="#fe0000"/>
<rect x="546.91" y="2054.25" width="22.24" height="174.64" fill="#33ea24"/>
<rect x="575.15" y="2052.74" width="22.24" height="176.15" fill="#0000cc"/>
<rect x="646.10" y="2052.74" width="22.24" height="176.15" fill="#fe0000"/>
<rect x="674.34" y="2056.77" width="22.24" height="172.12" fill="#33ea24"/>
<rect x="702.59" y="2054.51" width="22.24" height="174.39" fill="#0000cc"/>
<rect x="773.53" y="2078.70" width="22.24" height="150.19" fill="#fe0000"/>
<rect x="801.77" y="2081.47" width="22.24" height="147.42" fill="#33ea24"/>
<rect x="830.02" y="2079.96" width="22.24" height="148.93" fill="#0000cc"/>
<rect x="900.96" y="2085.00" width="22.24" height="143.89" fill="#fe0000"/>
<rect x="929.21" y="2091.05" width="22.24" height="137.85" fill="#33ea24"/>
<rect x="957.45" y="2087.01" width="22.24" height="141.88" fill="#0000cc"/>
<line x1="239.45" y1="1963.14" x2="239.45" y2="2237.39" stroke="#000000" stroke-width="1.8"/>
<line x1="230.05" y1="2228.89" x2="1004.94" y2="2228.89" stroke="#000000" stroke-width="1.8"/>
<line x1="230.05" y1="1964.04" x2="239.45" y2="1964.04" stroke="#000000" stroke-width="1.8"/>
<line x1="230.05" y1="2030.06" x2="239.45" y2="2030.06" stroke="#000000" stroke-width="1.8"/>
<line x1="230.05" y1="2096.09" x2="239.45" y2="2096.09" stroke="#000000" stroke-width="1.8"/>
<line x1="230.05" y1="2162.36" x2="239.45" y2="2162.36" stroke="#000000" stroke-width="1.8"/>
<line x1="366.88" y1="2228.89" x2="366.88" y2="2237.39" stroke="#000000" stroke-width="1.8"/>
<line x1="494.31" y1="2228.89" x2="494.31" y2="2237.39" stroke="#000000" stroke-width="1.8"/>
<line x1="621.74" y1="2228.89" x2="621.74" y2="2237.39" stroke="#000000" stroke-width="1.8"/>
<line x1="749.18" y1="2228.89" x2="749.18" y2="2237.39" stroke="#000000" stroke-width="1.8"/>
<line x1="876.61" y1="2228.89" x2="876.61" y2="2237.39" stroke="#000000" stroke-width="1.8"/>
<line x1="1004.04" y1="2228.89" x2="1004.04" y2="2237.39" stroke="#000000" stroke-width="1.8"/>
<rect x="495.40" y="1938.70" width="18.60" height="15.40" fill="#fe0000"/>
<rect x="579.90" y="1938.70" width="18.60" height="15.40" fill="#33ea24"/>
<rect x="655.10" y="1938.70" width="17.50" height="15.40" fill="#0000cc"/>
<rect x="1142.79" y="2100.37" width="22.23" height="129.53" fill="#fe0000"/>
<rect x="1171.02" y="2109.95" width="22.23" height="119.95" fill="#33ea24"/>
<rect x="1199.25" y="2105.92" width="22.23" height="123.99" fill="#0000cc"/>
<rect x="1270.15" y="2129.10" width="22.23" height="100.80" fill="#fe0000"/>
<rect x="1298.38" y="2144.22" width="22.23" height="85.68" fill="#33ea24"/>
<rect x="1326.61" y="2139.18" width="22.23" height="90.72" fill="#0000cc"/>
<rect x="1397.51" y="2159.09" width="22.23" height="70.81" fill="#fe0000"/>
<rect x="1425.74" y="2161.86" width="22.23" height="68.04" fill="#33ea24"/>
<rect x="1453.97" y="2161.86" width="22.23" height="68.04" fill="#0000cc"/>
<rect x="1524.87" y="2157.83" width="22.23" height="72.07" fill="#fe0000"/>
<rect x="1553.10" y="2165.64" width="22.23" height="64.26" fill="#33ea24"/>
<rect x="1581.33" y="2164.63" width="22.23" height="65.27" fill="#0000cc"/>
<rect x="1652.23" y="2157.83" width="22.23" height="72.07" fill="#fe0000"/>
<rect x="1680.46" y="2164.63" width="22.23" height="65.27" fill="#33ea24"/>
<rect x="1708.69" y="2163.37" width="22.23" height="66.53" fill="#0000cc"/>
<rect x="1779.59" y="2153.80" width="22.23" height="76.11" fill="#fe0000"/>
<rect x="1807.82" y="2165.14" width="22.23" height="64.77" fill="#33ea24"/>
<rect x="1836.05" y="2163.12" width="22.23" height="66.78" fill="#0000cc"/>
<line x1="1118.45" y1="1964.24" x2="1118.45" y2="2238.40" stroke="#000000" stroke-width="1.6"/>
<line x1="1109.15" y1="2229.90" x2="1883.41" y2="2229.90" stroke="#000000" stroke-width="1.6"/>
<line x1="1109.15" y1="1965.04" x2="1118.45" y2="1965.04" stroke="#000000" stroke-width="1.6"/>
<line x1="1109.15" y1="2030.82" x2="1118.45" y2="2030.82" stroke="#000000" stroke-width="1.6"/>
<line x1="1109.15" y1="2097.35" x2="1118.45" y2="2097.35" stroke="#000000" stroke-width="1.6"/>
<line x1="1109.15" y1="2164.13" x2="1118.45" y2="2164.13" stroke="#000000" stroke-width="1.6"/>
<line x1="1245.81" y1="2229.90" x2="1245.81" y2="2238.40" stroke="#000000" stroke-width="1.6"/>
<line x1="1373.17" y1="2229.90" x2="1373.17" y2="2238.40" stroke="#000000" stroke-width="1.6"/>
<line x1="1500.53" y1="2229.90" x2="1500.53" y2="2238.40" stroke="#000000" stroke-width="1.6"/>
<line x1="1627.89" y1="2229.90" x2="1627.89" y2="2238.40" stroke="#000000" stroke-width="1.6"/>
<line x1="1755.25" y1="2229.90" x2="1755.25" y2="2238.40" stroke="#000000" stroke-width="1.6"/>
<line x1="1882.61" y1="2229.90" x2="1882.61" y2="2238.40" stroke="#000000" stroke-width="1.6"/>
<rect x="1374.20" y="1940.20" width="18.80" height="15.30" fill="#fe0000"/>
<rect x="1458.50" y="1940.20" width="18.50" height="15.30" fill="#33ea24"/>
<rect x="1534.30" y="1940.20" width="17.90" height="15.30" fill="#0000cc"/>
</g>
<g id="grid">
<rect x="46.85" y="35.95" width="2.3" height="2253.35" fill="#161616"/>
<rect x="151.60" y="35.95" width="2.0" height="2253.35" fill="#161616"/>
<rect x="1027.90" y="35.95" width="2.6" height="2253.35" fill="#161616"/>
<rect x="1896.80" y="35.95" width="2.4" height="2253.35" fill="#161616"/>
<rect x="46.85" y="35.95" width="1852.35" height="2.1" fill="#161616"/>
<rect x="46.85" y="126.05" width="1852.35" height="1.9" fill="#161616"/>
<rect x="46.85" y="491.70" width="1852.35" height="2.2" fill="#161616"/>
<rect x="46.85" y="848.70" width="1852.35" height="2.0" fill="#161616"/>
<rect x="46.85" y="1209.90" width="1852.35" height="2.2" fill="#161616"/>
<rect x="46.85" y="1569.20" width="1852.35" height="2.0" fill="#161616"/>
<rect x="46.85" y="1928.20" width="1852.35" height="2.0" fill="#161616"/>
<rect x="46.85" y="2287.30" width="1852.35" height="2.0" fill="#161616"/>
</g>
<g id="labels">
<text class="sf b" font-size="57.71" transform="matrix(1.0073 0 0 1 436.64 93.30)">Uncorrected</text>
<text class="sf b" font-size="57.71" transform="matrix(0.9999 0 0 1 1338.20 93.30)">Corrected</text>
<text class="sf n" font-size="42.14" transform="translate(112.80 463.64) rotate(-90) scale(1.0816 1)" stroke="#000000" stroke-width="1.00" stroke-linejoin="round">Mean (Z) (in m)</text>
<text class="sf n" font-size="42.14" transform="translate(112.80 761.19) rotate(-90) scale(1.0543 1)" stroke="#000000" stroke-width="1.00" stroke-linejoin="round">SD (in m)</text>
<text class="sf n" font-size="42.14" transform="translate(112.80 1094.53) rotate(-90) scale(1.0687 1)" stroke="#000000" stroke-width="1.00" stroke-linejoin="round">RSD%</text>
<text class="sf n" font-size="42.14" transform="translate(112.80 1476.03) rotate(-90) scale(1.0332 1)" stroke="#000000" stroke-width="1.00" stroke-linejoin="round">SE (in m)</text>
<text class="sf n" font-size="42.14" transform="translate(112.80 1859.09) rotate(-90) scale(1.0382 1)" stroke="#000000" stroke-width="1.00" stroke-linejoin="round">MBE (in m)</text>
<text class="sf n" font-size="42.14" transform="translate(112.80 2228.48) rotate(-90) scale(1.0288 1)" stroke="#000000" stroke-width="1.00" stroke-linejoin="round">RMSE (in m)</text>
<text class="ss b" font-size="24.51" transform="matrix(1.0854 0 0 1 190.40 169.27)">300</text>
<text class="ss b" font-size="24.51" transform="matrix(1.0854 0 0 1 190.40 257.98)">200</text>
<text class="ss b" font-size="24.51" transform="matrix(1.0854 0 0 1 190.40 346.43)">100</text>
<text class="ss b" font-size="24.51" transform="matrix(1.0854 0 0 1 219.99 434.28)">0</text>
<text class="ss b" font-size="24.20" transform="matrix(1.0269 0 0 1 289.05 468.50)">Ast30</text>
<text class="ss b" font-size="24.20" transform="matrix(1.0491 0 0 1 413.33 468.50)">Crt30</text>
<text class="ss b" font-size="24.20" transform="matrix(1.0440 0 0 1 537.53 468.50)">Srt30</text>
<text class="ss b" font-size="24.20" transform="matrix(1.0440 0 0 1 660.68 468.50)">Srt90</text>
<text class="ss b" font-size="24.20" transform="matrix(1.0648 0 0 1 773.17 468.50)">MRT90</text>
<text class="ss b" font-size="24.20" transform="matrix(1.0096 0 0 1 900.73 468.50)">TDX90</text>
<text class="ss b" font-size="29.28" transform="translate(179.60 363.96) rotate(-90) scale(0.8200 1)" stroke="#000000" stroke-width="0.30" stroke-linejoin="round">Mean(Z) (in m)</text>
<text class="ss b" font-size="27.78" transform="matrix(1.0512 0 0 1 519.10 153.50)">nn</text>
<text class="ss b" font-size="28.22" transform="matrix(1.0690 0 0 1 603.14 153.36)">bl</text>
<text class="ss b" font-size="28.22" transform="matrix(0.9322 0 0 1 677.89 153.36)">bc</text>
<text class="ss b" font-size="24.51" transform="matrix(1.0854 0 0 1 1063.91 169.78)">300</text>
<text class="ss b" font-size="24.51" transform="matrix(1.0854 0 0 1 1063.91 259.24)">200</text>
<text class="ss b" font-size="24.51" transform="matrix(1.0854 0 0 1 1063.91 348.19)">100</text>
<text class="ss b" font-size="24.51" transform="matrix(1.0854 0 0 1 1093.50 436.65)">0</text>
<text class="ss b" font-size="24.20" transform="matrix(1.0347 0 0 1 1162.53 471.50)">Ast30</text>
<text class="ss b" font-size="24.20" transform="matrix(1.0570 0 0 1 1286.88 471.50)">Crt30</text>
<text class="ss b" font-size="24.20" transform="matrix(1.0518 0 0 1 1411.14 471.50)">Srt30</text>
<text class="ss b" font-size="24.20" transform="matrix(1.0518 0 0 1 1534.34 471.50)">Srt90</text>
<text class="ss b" font-size="24.20" transform="matrix(1.0728 0 0 1 1646.80 471.50)">MRT90</text>
<text class="ss b" font-size="24.20" transform="matrix(1.0172 0 0 1 1774.45 471.50)">TDX90</text>
<text class="ss b" font-size="27.39" transform="translate(1053.20 366.48) rotate(-90) scale(0.8856 1)" stroke="#000000" stroke-width="0.30" stroke-linejoin="round">Mean(Z) (in m)</text>
<text class="ss b" font-size="27.22" transform="matrix(1.0325 0 0 1 1393.57 154.20)">nn</text>
<text class="ss b" font-size="28.08" transform="matrix(1.0506 0 0 1 1477.38 154.06)">bl</text>
<text class="ss b" font-size="28.08" transform="matrix(0.9367 0 0 1 1551.99 154.06)">bc</text>
<text class="ss b" font-size="24.51" transform="matrix(1.0854 0 0 1 200.09 531.02)">9</text>
<text class="ss b" font-size="24.51" transform="matrix(1.0854 0 0 1 200.09 619.98)">6</text>
<text class="ss b" font-size="24.51" transform="matrix(1.0854 0 0 1 200.09 708.18)">3</text>
<text class="ss b" font-size="24.51" transform="matrix(1.0854 0 0 1 200.09 797.64)">0</text>
<text class="ss b" font-size="23.48" transform="matrix(1.0986 0 0 1 270.72 831.00)">Ast30</text>
<text class="ss b" font-size="23.48" transform="matrix(1.1223 0 0 1 398.75 831.00)">Crt30</text>
<text class="ss b" font-size="23.48" transform="matrix(1.1168 0 0 1 526.68 831.00)">Srt30</text>
<text class="ss b" font-size="23.48" transform="matrix(1.1168 0 0 1 653.53 831.00)">Srt90</text>
<text class="ss b" font-size="23.48" transform="matrix(1.1391 0 0 1 769.30 831.00)">MRT90</text>
<text class="ss b" font-size="23.48" transform="matrix(1.0800 0 0 1 900.74 831.00)">TDX90</text>
<text class="ss b" font-size="27.54" transform="translate(184.30 708.67) rotate(-90) scale(0.8238 1)" stroke="#000000" stroke-width="0.30" stroke-linejoin="round">SD (in m)</text>
<text class="ss b" font-size="31.85" transform="matrix(0.9684 0 0 1 507.50 515.20)">nn</text>
<text class="ss b" font-size="28.77" transform="matrix(1.0624 0 0 1 594.31 515.06)">bl</text>
<text class="ss b" font-size="28.77" transform="matrix(0.9855 0 0 1 669.96 515.06)">bc</text>
<text class="ss b" font-size="24.51" transform="matrix(1.0854 0 0 1 1078.69 533.79)">9</text>
<text class="ss b" font-size="24.51" transform="matrix(1.0854 0 0 1 1078.69 621.74)">6</text>
<text class="ss b" font-size="24.51" transform="matrix(1.0854 0 0 1 1078.69 709.94)">3</text>
<text class="ss b" font-size="24.51" transform="matrix(1.0854 0 0 1 1078.69 798.14)">0</text>
<text class="ss b" font-size="23.48" transform="matrix(1.0906 0 0 1 1149.55 831.00)">Ast30</text>
<text class="ss b" font-size="23.48" transform="matrix(1.1141 0 0 1 1277.71 831.00)">Crt30</text>
<text class="ss b" font-size="23.48" transform="matrix(1.1086 0 0 1 1405.77 831.00)">Srt30</text>
<text class="ss b" font-size="23.48" transform="matrix(1.1086 0 0 1 1532.75 831.00)">Srt90</text>
<text class="ss b" font-size="23.48" transform="matrix(1.1308 0 0 1 1648.74 831.00)">MRT90</text>
<text class="ss b" font-size="23.48" transform="matrix(1.0721 0 0 1 1780.28 831.00)">TDX90</text>
<text class="ss b" font-size="27.39" transform="translate(1063.10 709.86) rotate(-90) scale(0.8172 1)" stroke="#000000" stroke-width="0.30" stroke-linejoin="round">SD (in m)</text>
<text class="ss b" font-size="31.30" transform="matrix(0.9855 0 0 1 1386.70 518.40)">nn</text>
<text class="ss b" font-size="28.90" transform="matrix(1.0574 0 0 1 1473.51 518.26)">bl</text>
<text class="ss b" font-size="28.90" transform="matrix(0.9873 0 0 1 1549.45 518.26)">bc</text>
<text class="ss b" font-size="24.51" transform="matrix(1.0854 0 0 1 190.91 893.79)">4</text>
<text class="ss b" font-size="24.51" transform="matrix(1.0854 0 0 1 191.84 959.56)">3</text>
<text class="ss b" font-size="24.51" transform="matrix(1.0854 0 0 1 191.84 1025.59)">2</text>
<text class="ss b" font-size="24.51" transform="matrix(1.0854 0 0 1 191.57 1091.87)">1</text>
<text class="ss b" font-size="24.51" transform="matrix(1.0854 0 0 1 191.84 1157.89)">0</text>
<text class="ss b" font-size="23.48" transform="matrix(1.1465 0 0 1 263.20 1192.30)">Ast30</text>
<text class="ss b" font-size="23.48" transform="matrix(1.1712 0 0 1 391.36 1192.30)">Crt30</text>
<text class="ss b" font-size="23.48" transform="matrix(1.1655 0 0 1 519.42 1192.30)">Srt30</text>
<text class="ss b" font-size="23.48" transform="matrix(1.1655 0 0 1 646.35 1192.30)">Srt90</text>
<text class="ss b" font-size="23.48" transform="matrix(1.1887 0 0 1 761.70 1192.30)">MRT90</text>
<text class="ss b" font-size="23.48" transform="matrix(1.1271 0 0 1 893.45 1192.30)">TDX90</text>
<text class="ss b" font-size="27.68" transform="translate(177.90 1058.45) rotate(-90) scale(0.7492 1)" stroke="#000000" stroke-width="0.30" stroke-linejoin="round" style="white-space:pre">RSD  %</text>
<text class="ss b" font-size="32.78" transform="matrix(0.9744 0 0 1 501.92 877.90)">nn</text>
<text class="ss b" font-size="29.32" transform="matrix(1.0606 0 0 1 589.88 877.75)">bl</text>
<text class="ss b" font-size="29.32" transform="matrix(1.0051 0 0 1 666.38 877.75)">bc</text>
<text class="ss b" font-size="24.51" transform="matrix(1.0854 0 0 1 1074.50 888.75)">4</text>
<text class="ss b" font-size="24.51" transform="matrix(1.0854 0 0 1 1075.43 955.78)">3</text>
<text class="ss b" font-size="24.51" transform="matrix(1.0854 0 0 1 1075.43 1022.82)">2</text>
<text class="ss b" font-size="24.51" transform="matrix(1.0854 0 0 1 1075.16 1089.85)">1</text>
<text class="ss b" font-size="24.51" transform="matrix(1.0854 0 0 1 1075.43 1157.39)">0</text>
<text class="ss b" font-size="23.48" transform="matrix(1.1385 0 0 1 1146.87 1193.10)">Ast30</text>
<text class="ss b" font-size="23.48" transform="matrix(1.1631 0 0 1 1275.29 1193.10)">Crt30</text>
<text class="ss b" font-size="23.48" transform="matrix(1.1573 0 0 1 1403.61 1193.10)">Srt30</text>
<text class="ss b" font-size="23.48" transform="matrix(1.1573 0 0 1 1530.80 1193.10)">Srt90</text>
<text class="ss b" font-size="23.48" transform="matrix(1.1805 0 0 1 1646.49 1193.10)">MRT90</text>
<text class="ss b" font-size="23.48" transform="matrix(1.1192 0 0 1 1778.47 1193.10)">TDX90</text>
<text class="ss b" font-size="29.71" transform="translate(1060.70 1056.89) rotate(-90) scale(0.7194 1)" stroke="#000000" stroke-width="0.30" stroke-linejoin="round" style="white-space:pre">RSD  %</text>
<text class="ss b" font-size="32.04" transform="matrix(0.9969 0 0 1 1385.12 874.00)">nn</text>
<text class="ss b" font-size="29.86" transform="matrix(1.0411 0 0 1 1473.08 873.85)">bl</text>
<text class="ss b" font-size="29.86" transform="matrix(0.9742 0 0 1 1549.91 873.85)">bc</text>
<text class="ss b" font-size="24.51" transform="matrix(1.0854 0 0 1 189.17 1251.27)">0.80</text>
<text class="ss b" font-size="24.51" transform="matrix(1.0854 0 0 1 189.17 1318.30)">0.60</text>
<text class="ss b" font-size="24.51" transform="matrix(1.0854 0 0 1 189.17 1384.83)">0.40</text>
<text class="ss b" font-size="24.51" transform="matrix(1.0854 0 0 1 189.17 1451.36)">0.20</text>
<text class="ss b" font-size="24.51" transform="matrix(1.0854 0 0 1 189.17 1518.14)">0.00</text>
<text class="ss b" font-size="24.20" transform="matrix(1.0533 0 0 1 295.05 1553.00)">Ast30</text>
<text class="ss b" font-size="24.20" transform="matrix(1.0760 0 0 1 416.97 1553.00)">Crt30</text>
<text class="ss b" font-size="24.20" transform="matrix(1.0707 0 0 1 538.80 1553.00)">Srt30</text>
<text class="ss b" font-size="24.20" transform="matrix(1.0707 0 0 1 659.56 1553.00)">Srt90</text>
<text class="ss b" font-size="24.20" transform="matrix(1.0921 0 0 1 769.37 1553.00)">MRT90</text>
<text class="ss b" font-size="24.20" transform="matrix(1.0354 0 0 1 894.66 1553.00)">TDX90</text>
<text class="ss b" font-size="27.97" transform="translate(175.00 1424.55) rotate(-90) scale(0.7913 1)" stroke="#000000" stroke-width="0.30" stroke-linejoin="round">SE (in m)</text>
<text class="ss b" font-size="31.85" transform="matrix(0.9512 0 0 1 522.03 1236.70)">nn</text>
<text class="ss b" font-size="29.73" transform="matrix(1.0281 0 0 1 605.11 1236.55)">bl</text>
<text class="ss b" font-size="29.73" transform="matrix(0.8849 0 0 1 679.09 1236.55)">bc</text>
<text class="ss b" font-size="24.51" transform="matrix(1.0854 0 0 1 1078.26 1251.27)">0.80</text>
<text class="ss b" font-size="24.51" transform="matrix(1.0854 0 0 1 1078.26 1318.30)">0.60</text>
<text class="ss b" font-size="24.51" transform="matrix(1.0854 0 0 1 1078.26 1384.83)">0.40</text>
<text class="ss b" font-size="24.51" transform="matrix(1.0854 0 0 1 1078.26 1451.36)">0.20</text>
<text class="ss b" font-size="24.51" transform="matrix(1.0854 0 0 1 1078.26 1518.14)">0.00</text>
<text class="ss b" font-size="24.20" transform="matrix(1.0533 0 0 1 1184.65 1553.00)">Ast30</text>
<text class="ss b" font-size="24.20" transform="matrix(1.0760 0 0 1 1306.58 1553.00)">Crt30</text>
<text class="ss b" font-size="24.20" transform="matrix(1.0707 0 0 1 1428.42 1553.00)">Srt30</text>
<text class="ss b" font-size="24.20" transform="matrix(1.0707 0 0 1 1549.19 1553.00)">Srt90</text>
<text class="ss b" font-size="24.20" transform="matrix(1.0921 0 0 1 1659.01 1553.00)">MRT90</text>
<text class="ss b" font-size="24.20" transform="matrix(1.0354 0 0 1 1784.31 1553.00)">TDX90</text>
<text class="ss b" font-size="27.25" transform="translate(1064.80 1424.45) rotate(-90) scale(0.8098 1)" stroke="#000000" stroke-width="0.30" stroke-linejoin="round">SE (in m)</text>
<text class="ss b" font-size="32.22" transform="matrix(0.9062 0 0 1 1411.40 1236.40)">nn</text>
<text class="ss b" font-size="29.73" transform="matrix(1.0103 0 0 1 1494.85 1236.25)">bl</text>
<text class="ss b" font-size="29.73" transform="matrix(0.9224 0 0 1 1568.32 1236.25)">bc</text>
<text class="ss b" font-size="24.51" transform="matrix(1.0854 0 0 1 191.97 1613.04)">8</text>
<text class="ss b" font-size="24.51" transform="matrix(1.0854 0 0 1 192.24 1678.81)">6</text>
<text class="ss b" font-size="24.51" transform="matrix(1.0854 0 0 1 191.31 1745.09)">4</text>
<text class="ss b" font-size="24.51" transform="matrix(1.0854 0 0 1 192.24 1811.11)">2</text>
<text class="ss b" font-size="24.51" transform="matrix(1.0854 0 0 1 192.24 1877.39)">0</text>
<text class="ss b" font-size="23.48" transform="matrix(1.1465 0 0 1 263.24 1912.30)">Ast30</text>
<text class="ss b" font-size="23.48" transform="matrix(1.1712 0 0 1 391.48 1912.30)">Crt30</text>
<text class="ss b" font-size="23.48" transform="matrix(1.1655 0 0 1 519.63 1912.30)">Srt30</text>
<text class="ss b" font-size="23.48" transform="matrix(1.1655 0 0 1 646.64 1912.30)">Srt90</text>
<text class="ss b" font-size="23.48" transform="matrix(1.1887 0 0 1 762.08 1912.30)">MRT90</text>
<text class="ss b" font-size="23.48" transform="matrix(1.1271 0 0 1 893.91 1912.30)">TDX90</text>
<text class="ss b" font-size="27.97" transform="translate(179.00 1792.74) rotate(-90) scale(0.8454 1)" stroke="#000000" stroke-width="0.30" stroke-linejoin="round">MBE (in m)</text>
<text class="ss b" font-size="30.00" transform="matrix(1.0646 0 0 1 501.92 1596.70)">nn</text>
<text class="ss b" font-size="28.77" transform="matrix(1.0946 0 0 1 589.55 1596.56)">bl</text>
<text class="ss b" font-size="28.77" transform="matrix(1.0113 0 0 1 667.11 1596.56)">bc</text>
<text class="ss b" font-size="24.51" transform="matrix(1.0854 0 0 1 1076.76 1614.80)">0.4</text>
<text class="ss b" font-size="24.51" transform="matrix(1.0854 0 0 1 1077.69 1702.50)">0.2</text>
<text class="ss b" font-size="24.51" transform="matrix(1.0854 0 0 1 1077.69 1791.45)">0.0</text>
<text class="ss b" font-size="24.51" transform="matrix(1.0854 0 0 1 1068.83 1879.40)">-0.2</text>
<text class="ss b" font-size="24.20" transform="matrix(1.0657 0 0 1 1170.09 1913.50)">Ast30</text>
<text class="ss b" font-size="24.20" transform="matrix(1.0887 0 0 1 1294.47 1913.50)">Crt30</text>
<text class="ss b" font-size="24.20" transform="matrix(1.0833 0 0 1 1418.76 1913.50)">Srt30</text>
<text class="ss b" font-size="24.20" transform="matrix(1.0833 0 0 1 1541.96 1913.50)">Srt90</text>
<text class="ss b" font-size="24.20" transform="matrix(1.1050 0 0 1 1654.09 1913.50)">MRT90</text>
<text class="ss b" font-size="24.20" transform="matrix(1.0476 0 0 1 1781.89 1913.50)">TDX90</text>
<text class="ss b" font-size="28.41" transform="translate(1065.80 1788.11) rotate(-90) scale(0.8187 1)" stroke="#000000" stroke-width="0.30" stroke-linejoin="round">MBE (in m)</text>
<text class="ss b" font-size="31.11" transform="matrix(0.9826 0 0 1 1401.71 1598.70)">nn</text>
<text class="ss b" font-size="28.77" transform="matrix(1.0532 0 0 1 1486.33 1598.56)">bl</text>
<text class="ss b" font-size="28.77" transform="matrix(0.9855 0 0 1 1560.76 1598.56)">bc</text>
<text class="ss b" font-size="24.51" transform="matrix(1.0854 0 0 1 196.45 1971.79)">8</text>
<text class="ss b" font-size="24.51" transform="matrix(1.0854 0 0 1 196.71 2037.82)">6</text>
<text class="ss b" font-size="24.51" transform="matrix(1.0854 0 0 1 195.78 2103.84)">4</text>
<text class="ss b" font-size="24.51" transform="matrix(1.0854 0 0 1 196.71 2170.12)">2</text>
<text class="ss b" font-size="24.51" transform="matrix(1.0854 0 0 1 196.71 2236.65)">0</text>
<text class="ss b" font-size="23.48" transform="matrix(1.1065 0 0 1 267.99 2271.50)">Ast30</text>
<text class="ss b" font-size="23.48" transform="matrix(1.1305 0 0 1 396.62 2271.50)">Crt30</text>
<text class="ss b" font-size="23.48" transform="matrix(1.1249 0 0 1 525.14 2271.50)">Srt30</text>
<text class="ss b" font-size="23.48" transform="matrix(1.1249 0 0 1 652.58 2271.50)">Srt90</text>
<text class="ss b" font-size="23.48" transform="matrix(1.1473 0 0 1 768.85 2271.50)">MRT90</text>
<text class="ss b" font-size="23.48" transform="matrix(1.0878 0 0 1 900.92 2271.50)">TDX90</text>
<text class="ss b" font-size="26.96" transform="translate(183.20 2161.98) rotate(-90) scale(0.8465 1)" stroke="#000000" stroke-width="0.30" stroke-linejoin="round">RMSE (in m)</text>
<text class="ss b" font-size="30.56" transform="matrix(0.9915 0 0 1 522.03 1955.70)">nn</text>
<text class="ss b" font-size="28.77" transform="matrix(1.0624 0 0 1 606.61 1955.56)">bl</text>
<text class="ss b" font-size="28.77" transform="matrix(0.9467 0 0 1 682.03 1955.56)">bc</text>
<text class="ss b" font-size="24.51" transform="matrix(1.0854 0 0 1 1075.06 1972.80)">8</text>
<text class="ss b" font-size="24.51" transform="matrix(1.0854 0 0 1 1075.32 2038.57)">6</text>
<text class="ss b" font-size="24.51" transform="matrix(1.0854 0 0 1 1074.39 2105.10)">4</text>
<text class="ss b" font-size="24.51" transform="matrix(1.0854 0 0 1 1075.32 2171.88)">2</text>
<text class="ss b" font-size="24.51" transform="matrix(1.0854 0 0 1 1075.32 2237.66)">0</text>
<text class="ss b" font-size="24.20" transform="matrix(1.0781 0 0 1 1146.81 2272.30)">Ast30</text>
<text class="ss b" font-size="24.20" transform="matrix(1.1014 0 0 1 1275.37 2272.30)">Crt30</text>
<text class="ss b" font-size="24.20" transform="matrix(1.0959 0 0 1 1403.83 2272.30)">Srt30</text>
<text class="ss b" font-size="24.20" transform="matrix(1.0959 0 0 1 1531.19 2272.30)">Srt90</text>
<text class="ss b" font-size="24.20" transform="matrix(1.1178 0 0 1 1647.34 2272.30)">MRT90</text>
<text class="ss b" font-size="24.20" transform="matrix(1.0598 0 0 1 1779.35 2272.30)">TDX90</text>
<text class="ss b" font-size="26.96" transform="translate(1063.20 2163.27) rotate(-90) scale(0.8395 1)" stroke="#000000" stroke-width="0.30" stroke-linejoin="round">RMSE (in m)</text>
<text class="ss b" font-size="30.56" transform="matrix(0.9766 0 0 1 1401.06 1957.00)">nn</text>
<text class="ss b" font-size="28.77" transform="matrix(1.0532 0 0 1 1486.33 1956.86)">bl</text>
<text class="ss b" font-size="28.77" transform="matrix(0.9855 0 0 1 1560.76 1956.86)">bc</text>
</g>
</svg>
</body></html>
